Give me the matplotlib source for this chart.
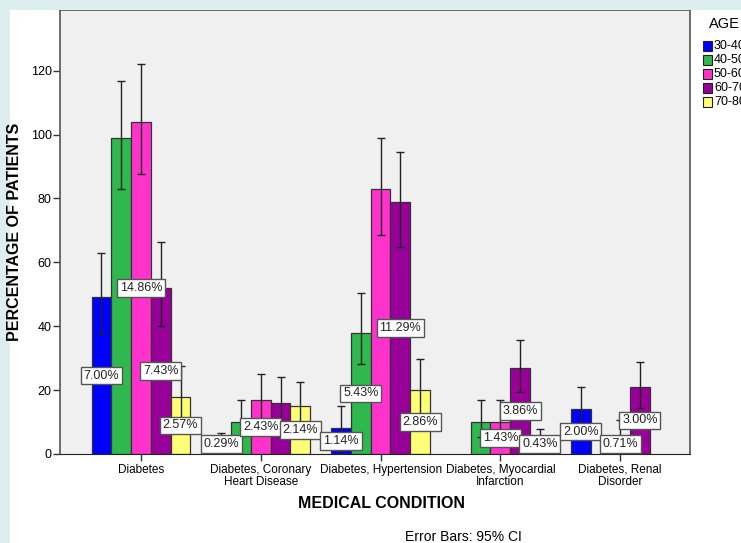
import matplotlib.pyplot as plt
from matplotlib.patches import Rectangle

plt.rcParams['font.family'] = ['Liberation Sans', 'DejaVu Sans']

conditions = ["Diabetes", "Diabetes, Coronary\nHeart Disease", "Diabetes, Hypertension",
              "Diabetes, Myocardial\nInfarction", "Diabetes, Renal\nDisorder"]
age_groups = ["30-40", "40-50", "50-60", "60-70", "70-80"]
colors = ["#0000ff", "#2eb84e", "#ff33cc", "#990099", "#ffff77"]
total_patients = 700

# patients per condition (rows) and age group (columns)
counts = [
    [49, 99, 104, 52, 18],
    [2, 10, 17, 16, 15],
    [8, 38, 83, 79, 20],
    [0, 10, 10, 27, 3],
    [14, 0, 5, 21, 0],
]
# 95% CI bounds
ci_low = [
    [37.6, 83.0, 87.7, 40.1, 8.5],
    [0.0, 5.6, 10.6, 9.4, 8.0],
    [1.0, 28.2, 68.6, 64.9, 10.8],
    [0, 5.3, 3.0, 19.4, 0.9],
    [7.0, 0, 0.0, 14.4, 0],
]
ci_high = [
    [63.0, 116.9, 122.2, 66.4, 27.6],
    [6.5, 17.0, 25.0, 24.1, 22.6],
    [15.0, 50.4, 99.0, 94.6, 29.8],
    [0, 17.0, 17.0, 35.7, 7.8],
    [21.0, 0, 10.7, 28.8, 0],
]
# which bars carry a percentage label
show_label = [
    [1, 0, 1, 1, 1],
    [1, 0, 1, 0, 1],
    [1, 1, 0, 1, 1],
    [0, 0, 1, 1, 1],
    [1, 0, 1, 1, 0],
]

fig = plt.figure(figsize=(7.41, 5.43), dpi=100)
fig.patch.set_facecolor("white")
# light frame strips along the top and left edge
fig.patches.append(Rectangle((0, 0), 10 / 741, 1, transform=fig.transFigure,
                             facecolor="#dceeed", edgecolor="none", zorder=0))
fig.patches.append(Rectangle((0, 1 - 10 / 543), 1, 10 / 543, transform=fig.transFigure,
                             facecolor="#dceeed", edgecolor="none", zorder=0))

ax = fig.add_axes([60 / 741, 1 - 454 / 543, 630 / 741, 444 / 543])
ax.set_facecolor("#f0f0f0")

width = 0.165
for i in range(len(conditions)):
    for j in range(len(age_groups)):
        v = counts[i][j]
        if v == 0:
            continue
        x = i + (j - 2) * width
        ax.bar(x, v, width=width, color=colors[j], edgecolor="#333333", linewidth=0.9, zorder=2)
        lo, hi = ci_low[i][j], ci_high[i][j]
        ax.errorbar(x, v, yerr=[[v - lo], [hi - v]], fmt="none", ecolor="#222222",
                    elinewidth=1.0, capsize=3, capthick=1.0, zorder=3)

for i in range(len(conditions)):
    for j in range(len(age_groups)):
        if not show_label[i][j]:
            continue
        v = counts[i][j]
        x = i + (j - 2) * width
        ax.text(x, max(v / 2, 3.2), f"{v / total_patients * 100:.2f}%", ha="center", va="center",
                fontsize=9, color="#222222", zorder=5,
                bbox=dict(boxstyle="square,pad=0.22", facecolor="white", edgecolor="#555555", linewidth=1))

ax.set_xlim(-0.676, 4.583)
ax.set_ylim(0, 139)
ax.set_yticks([0, 20, 40, 60, 80, 100, 120])
ax.set_xticks(range(len(conditions)))
ax.set_xticklabels(conditions, fontsize=8.5, linespacing=1.0)
ax.tick_params(axis="y", labelsize=9, length=5, width=1, color="#333333", pad=1)
ax.tick_params(axis="x", length=5, width=1, color="#333333", pad=2)
for s in ["left", "top", "right"]:
    ax.spines[s].set_color("#555555")
    ax.spines[s].set_linewidth(1.2)
ax.spines["bottom"].set_color("#222222")

fig.text(15 / 741, 1 - 232 / 543, "PERCENTAGE OF PATIENTS", rotation=90, ha="center", va="center",
         fontsize=11.5, fontweight="bold")
fig.text(381 / 741, 1 - 504 / 543, "MEDICAL CONDITION", ha="center", va="center",
         fontsize=11.5, fontweight="bold")
fig.text(405 / 741, 1 - 537 / 543, "Error Bars: 95% CI", ha="left", va="center", fontsize=10)

# legend box on the right
fig.text(709 / 741, 1 - 24 / 543, "AGE", ha="left", va="center", fontsize=10.5)
for k, (lab, c) in enumerate(zip(age_groups, colors)):
    yc = 46 + 14 * k
    fig.patches.append(Rectangle((703 / 741, 1 - (yc + 5) / 543), 9 / 741, 10 / 543,
                                 transform=fig.transFigure, facecolor=c, edgecolor="#222222",
                                 linewidth=0.8))
    fig.text(714 / 741, 1 - yc / 543, lab, ha="left", va="center", fontsize=9)

fig.savefig("out.png", dpi=100)
